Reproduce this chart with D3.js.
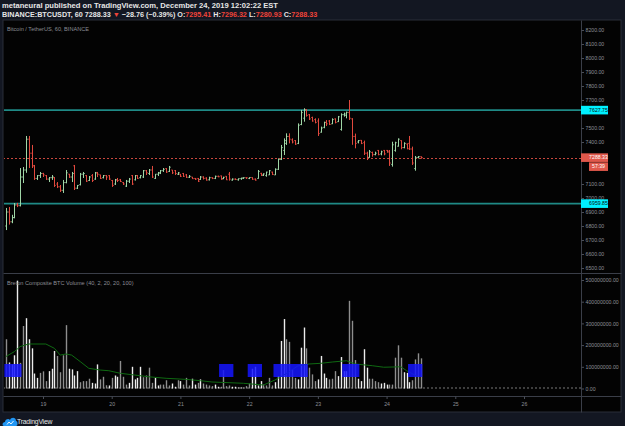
<!DOCTYPE html>
<html>
<head>
<meta charset="utf-8">
<script src="https://cdnjs.cloudflare.com/ajax/libs/d3/7.8.5/d3.min.js"></script>
<style>
	html, body { margin: 0; padding: 0; background: #131722; }
	svg { display: block; font-family: 'Liberation Sans', Arial, sans-serif; }
</style>
</head>
<body>
<svg width="625" height="426"></svg>
<script>
'use strict';

// day labels on the time axis
const days = [19, 20, 21, 22, 23, 24, 25, 26];
const priceTicks = [6500, 6600, 6700, 6800, 6900, 7000, 7100, 7200, 7300, 7400, 7500, 7600, 7700, 7800, 7900, 8000, 8100, 8200];
const volTicks = [0, 100000000, 200000000, 300000000, 400000000, 500000000];

// horizontal levels drawn on the chart
const levels = [7627.75, 6959.85];
const lastPrice = 7288.33;
const countdown = '57:39';

// hourly OHLC bars, Dec 18 11:00 -> Dec 24 12:00
const bars = [
	[6800,6929,6771,6900],[6900,6936,6810,6830],[6830,6880,6820,6860],[6860,6964,6855,6950],[6950,6965,6935,6945],
	[6945,7214,6940,7150],[7150,7221,7107,7200],[7200,7443,7180,7420],[7420,7443,7214,7320],[7320,7379,7214,7230],
	[7230,7236,7129,7140],[7140,7164,7129,7160],[7160,7186,7143,7175],[7175,7180,7150,7165],[7160,7164,7129,7135],
	[7135,7150,7114,7145],[7145,7164,7129,7150],[7145,7150,7079,7090],[7100,7114,7071,7080],[7080,7093,7043,7055],
	[7055,7129,7036,7110],[7110,7200,7105,7180],[7170,7172,7143,7150],[7150,7186,7114,7175],[7230,7236,7057,7070],
	[7070,7093,7064,7090],[7095,7179,7090,7170],[7170,7186,7143,7175],[7160,7164,7114,7120],[7125,7157,7121,7150],
	[7160,7171,7114,7125],[7135,7186,7130,7180],[7180,7186,7150,7170],[7165,7166,7136,7140],[7145,7164,7140,7160],
	[7160,7164,7129,7150],[7160,7164,7129,7135],[7125,7129,7079,7090],[7100,7136,7093,7130],[7130,7143,7114,7125],
	[7130,7136,7114,7118],[7110,7114,7093,7100],[7085,7129,7079,7120],[7120,7143,7107,7135],[7160,7164,7093,7100],
	[7130,7164,7125,7160],[7160,7164,7136,7140],[7145,7164,7140,7160],[7150,7200,7143,7195],[7195,7200,7164,7180],
	[7175,7207,7164,7200],[7200,7229,7143,7150],[7140,7171,7136,7170],[7170,7186,7157,7180],[7178,7200,7171,7195],
	[7195,7214,7186,7205],[7210,7214,7179,7185],[7190,7229,7186,7220],[7200,7200,7171,7180],[7195,7200,7164,7175],
	[7170,7186,7164,7180],[7170,7171,7150,7155],[7175,7179,7150,7155],[7165,7171,7143,7148],[7148,7164,7143,7155],
	[7150,7150,7136,7138],[7140,7143,7129,7135],[7140,7143,7114,7120],[7132,7157,7129,7150],
	[7150,7155,7132,7140],[7142,7148,7124,7128],[7130,7152,7125,7145],[7145,7148,7135,7140],[7140,7160,7135,7155],
	[7155,7160,7148,7152],[7158,7160,7130,7135],[7138,7152,7135,7148],[7155,7157,7128,7130],[7170,7186,7124,7135],
	[7128,7140,7124,7135],[7135,7140,7128,7132],[7130,7140,7124,7138],[7138,7145,7130,7142],[7142,7148,7136,7145],
	[7145,7148,7136,7144],[7140,7148,7135,7146],[7146,7148,7130,7134],[7135,7140,7124,7128],[7140,7200,7138,7190],
	[7176,7180,7157,7165],[7162,7176,7157,7172],[7160,7188,7152,7185],[7165,7200,7164,7195],[7185,7188,7164,7168],
	[7165,7212,7164,7205],[7205,7283,7200,7275],[7275,7379,7271,7360],[7340,7426,7307,7410],[7390,7462,7379,7440],
	[7440,7462,7390,7420],[7415,7426,7390,7400],[7410,7414,7379,7385],[7390,7533,7385,7520],[7525,7629,7520,7610],
	[7570,7641,7545,7630],[7630,7634,7581,7590],[7595,7600,7557,7565],[7575,7581,7545,7550],[7560,7569,7533,7540],
	[7550,7569,7443,7460],[7470,7510,7467,7500],[7505,7545,7498,7540],[7540,7557,7514,7530],[7550,7557,7521,7525],
	[7530,7569,7528,7560],[7565,7569,7533,7540],[7545,7586,7543,7580],[7490,7605,7481,7595],[7595,7610,7581,7600],
	[7590,7617,7569,7612],[7610,7700,7557,7570],[7565,7570,7380,7440],[7440,7460,7355,7390],[7400,7414,7390,7410],
	[7412,7414,7385,7390],[7395,7410,7307,7320],[7320,7331,7271,7290],[7290,7343,7288,7330],[7325,7331,7295,7310],
	[7310,7331,7305,7320],[7340,7343,7305,7310],[7315,7338,7305,7330],[7340,7343,7305,7315],[7340,7343,7324,7328],
	[7335,7343,7229,7250],[7240,7402,7224,7380],[7340,7402,7331,7395],[7370,7426,7367,7420],[7410,7412,7348,7360],
	[7360,7398,7355,7390],[7385,7390,7348,7352],[7390,7443,7343,7350],[7350,7367,7236,7250],[7210,7300,7195,7290],
	[7290,7300,7283,7295],[7295.41,7296.32,7280.93,7288.33]
];

// volume in millions, one per bar
const volume = [
	227,120,111,153,497,118,288,324,227,185,69,49,72,79,34,80,91,173,150,75,153,292,91,88,60,80,29,34,34,45,
	26,23,111,42,54,15,14,49,60,54,127,54,18,26,100,42,49,100,52,60,96,26,49,14,18,18,38,14,23,8,
	38,34,18,49,14,45,18,26,42,23,18,14,
	11,18,8,8,85,11,14,8,8,5,5,5,11,23,91,100,14,34,18,14,49,14,29,57,219,320,227,215,85,49,
	42,188,281,185,96,65,34,42,150,69,49,42,45,80,57,145,80,80,404,312,131,45,34,181,96,45,45,34,
	29,23,26,18,18,18,142,199,142,75,72,29,38,134,162,139
];
// w = white bar, g = grey bar
const volShade = 'gwwwwggwwwwwgggwwwggggwwwwggggwwwgggwgwwgggwwwwwggggwwggggwwgwgggwwgwgggg' +
	'wwggggwwwwgggwwwwggggwwwwggggwwwggggwwwwgggwwwwgggwwwwggggwwwgggggwwwggggw';

// volume average line, [bar index, value in millions]
const volAvg = [
	[0,147],[3,170],[5,193],[8,205],[14,205],[17,185],[19,154],[21,159],[23,154],[26,124],[29,93],[33,85],
	[36,82],[40,70],[45,62],[50,54],[56,47],[63,42],[68,36],[72,30],[83,24],[90,16],[94,39],[99,77],
	[102,104],[106,113],[110,116],[114,122],[119,128],[122,113],[128,105],[132,98],[138,100],[140,82],[144,54]
];

// bar index ranges flagged by the indicator
const flagged = [[0, 1], [2, 5], [75, 79], [85, 89], [94, 105], [118, 123], [141, 145]];

const svg = d3.select('svg');
const W = 625, H = 426;
const padL = 3, padR = 621, padT = 20, padB = 412;
const axisX = 581, paneSplit = 273, timeY = 396;

const up = '#9fd6a6', down = '#e2493e';

// backgrounds
svg.append('rect').attr('width', W).attr('height', H).attr('fill', '#131722');
svg.append('rect')
	.attr('x', padL).attr('y', padT)
	.attr('width', padR - padL).attr('height', padB - padT)
	.attr('fill', '#030303')
	.attr('stroke', '#2a2e39')
;

const xTime = d3.scaleUtc()
	.domain([Date.UTC(2019, 11, 19), Date.UTC(2019, 11, 26)])
	.range([43, 524])
;
const x = d3.scaleLinear()
	.domain([0, bars.length - 1])
	.range([xTime(Date.UTC(2019, 11, 18, 11)), xTime(Date.UTC(2019, 11, 24, 12))])
;
const y = d3.scaleLinear().domain([6500, 8200]).range([268, 30]);
const yVol = d3.scaleLinear().domain([0, 500000000]).range([388.5, 280]);

svg.append('clipPath').attr('id', 'pane')
	.append('rect').attr('x', padL + 1).attr('y', padT + 1)
	.attr('width', axisX - padL - 1).attr('height', timeY - padT - 1)
;

// separators
const sep = [
	[axisX, padT, axisX, padB],
	[padL, paneSplit, padR, paneSplit],
	[padL, timeY, padR, timeY]
];
svg.append('g')
	.selectAll('line')
	.data(sep)
	.join('line')
	.attr('x1', d => d[0] + 0.5).attr('y1', d => d[1] + 0.5)
	.attr('x2', d => d[2] + 0.5).attr('y2', d => d[3] + 0.5)
	.attr('stroke', '#3a3e48')
;

const $plot = svg.append('g').attr('clip-path', 'url(#pane)');

// level lines
$plot.selectAll('line.level')
	.data(levels)
	.join('line')
	.attr('class', 'level')
	.attr('x1', padL).attr('x2', axisX)
	.attr('y1', d => y(d)).attr('y2', d => y(d))
	.attr('stroke', '#1f8a86')
	.attr('stroke-width', 1.6)
;

// last price line
$plot.append('line')
	.attr('x1', padL).attr('x2', axisX)
	.attr('y1', Math.round(y(lastPrice)) + 0.5).attr('y2', Math.round(y(lastPrice)) + 0.5)
	.attr('stroke', '#c8473d')
	.attr('stroke-dasharray', '2,2')
;

// OHLC bars
$plot.append('g')
	.selectAll('path')
	.data(bars)
	.join('path')
	.attr('d', (d, i) => {
		const cx = Math.round(x(i)) + 0.5;
		return 'M' + cx + ',' + y(d[1]) + 'V' + y(d[2]) +
			'M' + (cx - 1.2) + ',' + y(d[0]) + 'H' + cx +
			'M' + cx + ',' + y(d[3]) + 'H' + (cx + 1.2);
	})
	.attr('fill', 'none')
	.attr('stroke', d => d[3] >= d[0] ? up : down)
	.attr('stroke-width', 1)
;

// volume zero line
$plot.append('line')
	.attr('x1', padL).attr('x2', axisX)
	.attr('y1', yVol(0) - 0.5).attr('y2', yVol(0) - 0.5)
	.attr('stroke', '#7a7a7a')
	.attr('stroke-dasharray', '2,2')
;

// volume bars
const xv = d3.scaleLinear()
	.domain([0, volume.length - 1])
	.range(x.range())
;
$plot.append('g')
	.selectAll('rect')
	.data(volume)
	.join('rect')
	.attr('x', (d, i) => Math.round(xv(i)) - 0.2)
	.attr('width', 1.4)
	.attr('y', d => yVol(d * 1e6))
	.attr('height', d => yVol(0) - yVol(d * 1e6))
	.attr('fill', (d, i) => volShade[i] === 'w' ? '#ececec' : '#8e8e8e')
;

// volume average
$plot.append('path')
	.datum(volAvg)
	.attr('d', d3.line().x(d => xv(d[0])).y(d => yVol(d[1] * 1e6)))
	.attr('fill', 'none')
	.attr('stroke', '#0f6a12')
	.attr('stroke-width', 1)
;

// flagged boxes
const step = xv(1) - xv(0);
$plot.append('g')
	.selectAll('rect')
	.data(flagged)
	.join('rect')
	.attr('x', d => xv(d[0]) - step / 2)
	.attr('width', d => xv(d[1]) - xv(d[0]) + step)
	.attr('y', yVol(113000000))
	.attr('height', yVol(53000000) - yVol(113000000))
	.attr('fill', '#1515ff')
	.attr('fill-opacity', 0.85)
;

// price labels on the axis
const tags = [
	{v: levels[0], text: d3.format('.2f')(levels[0]), bg: '#00f0ff', fg: '#0a0a0a', dy: 0},
	{v: levels[1], text: d3.format('.2f')(levels[1]), bg: '#00f0ff', fg: '#0a0a0a', dy: 0},
	{v: lastPrice, text: d3.format('.2f')(lastPrice), bg: '#e0584b', fg: '#ffffff', dy: 0},
	{v: lastPrice, text: countdown, bg: '#e0584b', fg: '#ffffff', dy: 9, short: true}
];

// axes
function styleAxis($g) {
	$g.select('.domain').remove();
	$g.selectAll('line').attr('stroke', '#4a4e58');
	$g.selectAll('text')
		.attr('fill', '#8d8f96')
		.attr('font-size', 5.2)
	;
}

// tick labels hidden under a tag, as on the original
const covered = v => tags.some(t => Math.abs(y(v) - (y(t.v) + t.dy)) < 5);

svg.append('g')
	.attr('transform', 'translate(' + (axisX + 0.5) + ',0)')
	.call(d3.axisRight(y)
		.tickValues(priceTicks.filter(v => !covered(v)))
		.tickFormat(d3.format('.2f'))
		.tickSize(2.5)
		.tickPadding(1.5))
	.call(styleAxis)
;

svg.append('g')
	.attr('transform', 'translate(' + (axisX + 0.5) + ',0)')
	.call(d3.axisRight(yVol).tickValues(volTicks).tickFormat(d3.format('.2f')).tickSize(2.5).tickPadding(1.5))
	.call(styleAxis)
;

svg.append('g')
	.attr('transform', 'translate(0,' + (timeY + 0.5) + ')')
	.call(d3.axisBottom(xTime)
		.tickValues(days.map(d => Date.UTC(2019, 11, d)))
		.tickFormat(d => d3.utcFormat('%-d')(d))
		.tickSize(2.5)
		.tickPadding(3))
	.call(styleAxis)
;

const $tags = svg.append('g')
	.selectAll('g')
	.data(tags)
	.join('g')
	.attr('transform', d => 'translate(0,' + (y(d.v) + d.dy) + ')')
;
$tags.append('rect')
	.attr('x', d => d.short ? 589 : axisX)
	.attr('y', -4.3)
	.attr('width', d => d.short ? 19 : 27)
	.attr('height', 8.6)
	.attr('fill', d => d.bg)
;
$tags.append('text')
	.attr('x', 598.5)
	.attr('dy', '0.35em')
	.attr('text-anchor', 'middle')
	.attr('font-size', 5.2)
	.attr('fill', d => d.fg)
	.text(d => d.text)
;

// pane titles
svg.append('text')
	.attr('x', 7).attr('y', 30.5)
	.attr('font-size', 5.6)
	.attr('fill', '#8b8d94')
	.text('Bitcoin / TetherUS, 60, BINANCE')
;
svg.append('text')
	.attr('x', 7).attr('y', 284.5)
	.attr('font-size', 5.6)
	.attr('fill', '#8b8d94')
	.text('Breton Composite BTC Volume (40, 2, 20, 20, 100)')
;

// header
svg.append('text')
	.attr('x', 2).attr('y', 8)
	.attr('font-size', 7.6)
	.attr('font-weight', 'bold')
	.attr('fill', '#e6e6e6')
	.text('metaneural published on TradingView.com, December 24, 2019 12:02:22 EST')
;

const ohlc = bars[bars.length - 1];
const head = [
	{t: 'BINANCE:BTCUSDT, 60 ', c: '#e6e6e6'},
	{t: d3.format('.2f')(lastPrice) + ' ', c: '#e6e6e6'},
	{t: '▼ ', c: '#f0443a'},
	{t: '−28.76 (−0.39%) ', c: '#e6e6e6'},
	{t: 'O:', c: '#e6e6e6'}, {t: ohlc[0].toFixed(2) + ' ', c: '#f0443a'},
	{t: 'H:', c: '#e6e6e6'}, {t: ohlc[1].toFixed(2) + ' ', c: '#f0443a'},
	{t: 'L:', c: '#e6e6e6'}, {t: ohlc[2].toFixed(2) + ' ', c: '#f0443a'},
	{t: 'C:', c: '#e6e6e6'}, {t: ohlc[3].toFixed(2), c: '#f0443a'}
];
svg.append('text')
	.attr('x', 2).attr('y', 16.5)
	.attr('font-size', 7.2)
	.attr('font-weight', 'bold')
	.selectAll('tspan')
	.data(head)
	.join('tspan')
	.attr('fill', d => d.c)
	.attr('xml:space', 'preserve')
	.text(d => d.t)
;

// footer logo
const $logo = svg.append('g').attr('transform', 'translate(3,416)');
$logo.append('path')
	.attr('d', 'M1,10 C-1,10 -1,6 2,6 C2,3 6,2 7,4 C8,1 13,1 13,5 C15,5 15,10 13,10 Z')
	.attr('fill', '#2196f3')
;
$logo.append('path')
	.attr('d', 'M4,8.5 L6,6 L8,8 L10.5,5')
	.attr('fill', 'none')
	.attr('stroke', '#ffffff')
	.attr('stroke-width', 0.9)
;
svg.append('text')
	.attr('x', 17).attr('y', 424)
	.attr('font-size', 6.8)
	.attr('fill', '#e6e6e6')
	.attr('letter-spacing', -0.2)
	.text('TradingView')
;
</script>
</body>
</html>
